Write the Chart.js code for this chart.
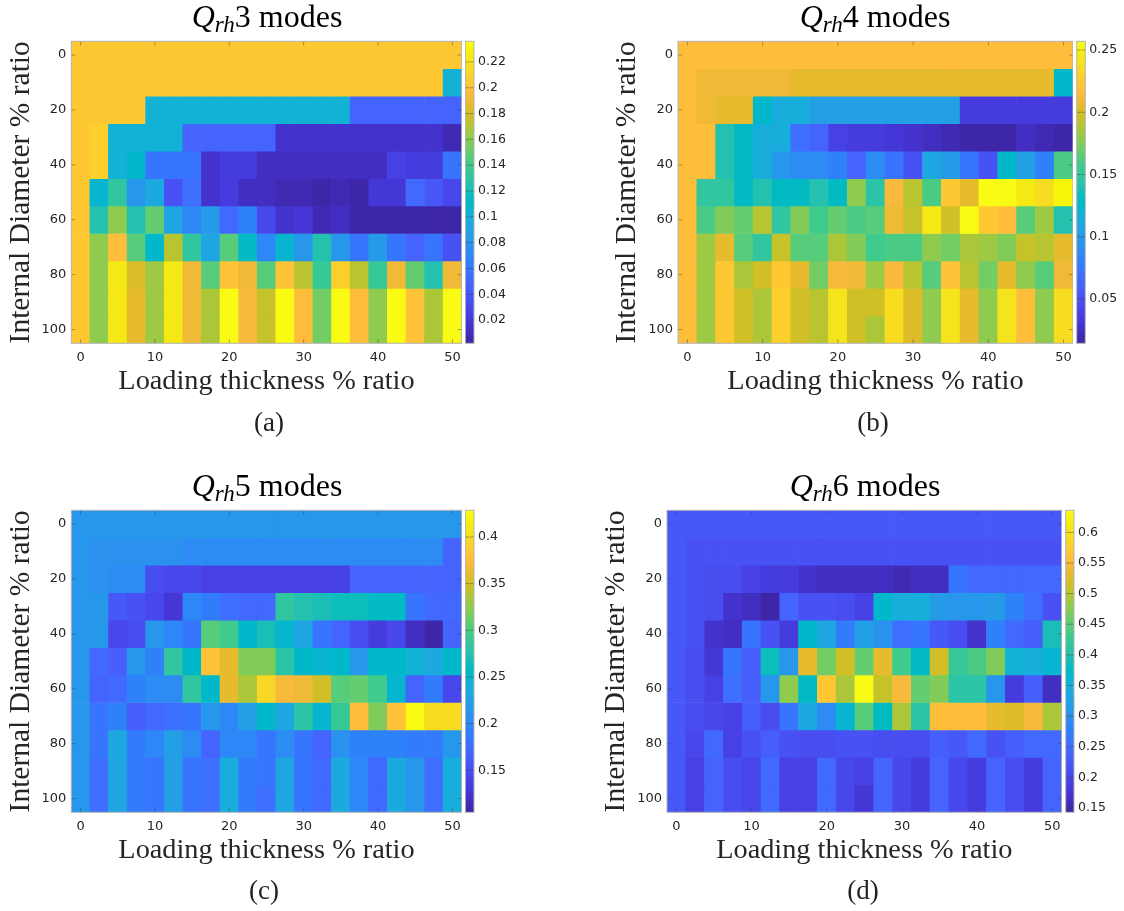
<!DOCTYPE html>
<html>
<head>
<meta charset="utf-8">
<title>Qrh modes</title>
<script src="https://cdn.jsdelivr.net/npm/chart.js@4"></script>
<style>
  html, body { margin: 0; padding: 0; background: #fff; }
  body { position: relative; width: 1124px; height: 911px; overflow: hidden; }
  canvas { position: absolute; display: block; }
</style>
</head>
<body>
<script>
// Data: one row per internal diameter, one value per loading thickness
const loadingThickness = ['0','2.5','5','7.5','10','12.5','15','17.5','20','22.5','25','27.5','30','32.5','35','37.5','40','42.5','45','47.5','50'];
const internalDiameter = [0, 10, 20, 30, 40, 50, 60, 70, 80, 90, 100];
const diameterTicks = [0, 20, 40, 60, 80, 100];

const qrh3 = [
  [.205,.205,.205,.205,.205,.205,.205,.205,.205,.205,.205,.205,.205,.205,.205,.205,.205,.205,.205,.205,.205],
  [.205,.205,.205,.205,.205,.205,.205,.205,.205,.205,.205,.205,.205,.205,.205,.205,.205,.205,.205,.205,.103],
  [.205,.205,.205,.205,.103,.103,.103,.103,.103,.103,.103,.103,.103,.103,.103,.047,.047,.047,.047,.047,.047],
  [.205,.209,.103,.103,.103,.103,.046,.046,.046,.046,.046,.016,.016,.016,.016,.016,.016,.016,.014,.014,.008],
  [.205,.209,.103,.110,.058,.058,.058,.016,.022,.022,.012,.012,.012,.012,.012,.012,.012,.027,.022,.022,.058],
  [.205,.105,.130,.080,.095,.037,.055,.016,.022,.012,.010,.007,.006,.003,.008,.005,.018,.018,.050,.042,.028],
  [.205,.125,.160,.125,.150,.090,.070,.085,.050,.065,.030,.014,.020,.008,.011,.005,.005,.004,.004,.002,.005],
  [.205,.160,.198,.145,.110,.172,.130,.090,.145,.112,.070,.108,.080,.125,.080,.060,.085,.058,.048,.060,.035],
  [.205,.160,.225,.182,.165,.225,.192,.145,.200,.192,.145,.203,.172,.135,.208,.172,.135,.192,.150,.125,.192],
  [.205,.160,.225,.187,.165,.225,.192,.168,.236,.195,.175,.236,.198,.155,.236,.198,.160,.236,.202,.168,.236],
  [.205,.160,.225,.187,.165,.225,.192,.168,.236,.195,.175,.236,.198,.155,.236,.198,.160,.236,.202,.168,.236]
];
const qrh3Limits = [.002, .236];
const qrh3Ticks = [.02, .04, .06, .08, .1, .12, .14, .16, .18, .2, .22];

const qrh4 = [
  [.217,.217,.217,.217,.217,.217,.217,.217,.217,.217,.217,.217,.217,.217,.217,.217,.217,.217,.217,.217,.217],
  [.217,.208,.208,.208,.208,.208,.206,.206,.206,.206,.206,.206,.206,.206,.206,.206,.206,.206,.206,.206,.128],
  [.217,.208,.205,.205,.127,.114,.114,.105,.105,.105,.105,.105,.105,.105,.105,.037,.037,.037,.037,.037,.037],
  [.217,.217,.140,.131,.115,.113,.070,.062,.039,.036,.036,.033,.028,.024,.019,.018,.018,.018,.025,.021,.016],
  [.217,.217,.140,.131,.115,.095,.088,.088,.080,.060,.090,.075,.052,.108,.098,.075,.050,.128,.105,.080,.162],
  [.217,.148,.150,.131,.142,.130,.130,.143,.129,.179,.147,.213,.189,.160,.225,.206,.257,.255,.245,.237,.252],
  [.217,.160,.174,.168,.189,.150,.174,.158,.168,.162,.165,.211,.195,.245,.200,.256,.226,.218,.163,.182,.143],
  [.217,.183,.206,.165,.148,.193,.165,.163,.188,.175,.157,.162,.162,.180,.172,.187,.182,.176,.195,.190,.206],
  [.217,.183,.226,.188,.198,.226,.207,.172,.213,.208,.183,.214,.190,.163,.222,.192,.170,.205,.178,.165,.210],
  [.217,.183,.226,.197,.185,.227,.197,.189,.241,.198,.198,.238,.203,.178,.239,.206,.180,.239,.217,.180,.238],
  [.217,.183,.226,.197,.185,.227,.197,.189,.241,.200,.187,.238,.203,.178,.239,.206,.180,.239,.217,.180,.238]
];
const qrh4Limits = [.0144, .257];
const qrh4Ticks = [.05, .1, .15, .2, .25];

const qrh5 = [
  [.214,.214,.214,.214,.214,.214,.214,.214,.214,.214,.214,.214,.214,.214,.214,.214,.214,.214,.214,.214,.214],
  [.214,.209,.209,.209,.209,.209,.206,.206,.206,.206,.206,.206,.206,.206,.206,.206,.206,.206,.206,.206,.168],
  [.214,.209,.205,.205,.150,.145,.145,.140,.136,.136,.136,.136,.136,.139,.140,.170,.170,.170,.170,.170,.170],
  [.212,.212,.160,.154,.142,.128,.200,.190,.178,.175,.175,.286,.275,.268,.263,.263,.260,.260,.185,.172,.172],
  [.212,.212,.142,.150,.212,.200,.185,.306,.296,.252,.268,.250,.228,.185,.168,.148,.135,.142,.120,.107,.170],
  [.212,.172,.162,.212,.196,.284,.255,.380,.360,.322,.318,.280,.252,.248,.252,.214,.255,.255,.245,.235,.252],
  [.212,.168,.172,.192,.202,.202,.285,.252,.360,.335,.395,.370,.365,.350,.305,.310,.296,.248,.168,.190,.142],
  [.212,.184,.196,.165,.172,.180,.184,.214,.198,.223,.255,.228,.280,.250,.290,.375,.320,.380,.425,.402,.402],
  [.212,.185,.232,.188,.198,.225,.203,.168,.198,.200,.184,.203,.184,.168,.210,.192,.192,.196,.190,.190,.212],
  [.212,.178,.230,.188,.184,.225,.184,.178,.238,.188,.185,.230,.185,.172,.232,.198,.175,.235,.212,.178,.238],
  [.212,.178,.230,.188,.184,.225,.184,.178,.238,.188,.178,.230,.185,.172,.232,.198,.175,.235,.212,.178,.238]
];
const qrh5Limits = [.105, .4286];
const qrh5Ticks = [.15, .2, .25, .3, .35, .4];

const qrh6 = [
  [.224,.224,.224,.224,.224,.224,.224,.224,.224,.224,.224,.224,.224,.224,.224,.224,.224,.224,.224,.224,.224],
  [.224,.216,.216,.216,.216,.216,.213,.213,.213,.213,.213,.213,.213,.213,.213,.213,.213,.213,.213,.213,.213],
  [.224,.216,.208,.208,.193,.185,.185,.173,.162,.162,.162,.160,.158,.160,.160,.262,.245,.245,.245,.245,.245],
  [.224,.220,.205,.172,.160,.150,.243,.220,.213,.205,.190,.370,.345,.345,.320,.310,.310,.320,.275,.255,.220],
  [.224,.220,.172,.160,.265,.215,.188,.370,.335,.272,.325,.300,.255,.265,.225,.205,.172,.275,.250,.235,.395],
  [.224,.205,.180,.265,.235,.385,.305,.534,.465,.520,.454,.530,.430,.375,.515,.425,.440,.470,.355,.345,.360],
  [.224,.205,.190,.255,.230,.305,.475,.380,.572,.495,.630,.510,.550,.455,.470,.405,.410,.305,.188,.235,.162],
  [.224,.210,.200,.190,.230,.210,.260,.340,.290,.360,.445,.380,.490,.410,.555,.555,.555,.530,.525,.545,.490],
  [.224,.200,.250,.195,.220,.235,.213,.205,.208,.213,.213,.210,.210,.210,.235,.225,.250,.220,.230,.245,.245],
  [.224,.190,.240,.205,.200,.245,.192,.190,.250,.200,.190,.240,.200,.185,.240,.200,.185,.240,.205,.185,.240],
  [.224,.190,.240,.205,.200,.245,.192,.190,.250,.200,.178,.240,.200,.185,.240,.200,.185,.240,.205,.185,.240]
];
const qrh6Limits = [.143, .636];
const qrh6Ticks = [.15, .2, .25, .3, .35, .4, .45, .5, .55, .6];

// parula colormap
const parula = [
  [.2422,.1504,.6603],[.2504,.1650,.7076],[.2578,.1818,.7511],[.2647,.1978,.7952],[.2706,.2147,.8364],[.2751,.2342,.8710],
  [.2783,.2559,.8991],[.2803,.2782,.9221],[.2813,.3006,.9414],[.2810,.3228,.9579],[.2795,.3447,.9717],[.2760,.3667,.9829],
  [.2699,.3892,.9906],[.2602,.4123,.9952],[.2440,.4358,.9988],[.2206,.4603,.9973],[.1963,.4847,.9892],[.1834,.5074,.9798],
  [.1786,.5289,.9682],[.1764,.5499,.9520],[.1687,.5703,.9359],[.1540,.5902,.9218],[.1460,.6091,.9079],[.1380,.6276,.8973],
  [.1248,.6459,.8883],[.1113,.6635,.8763],[.0952,.6798,.8598],[.0689,.6948,.8394],[.0297,.7082,.8163],[.0036,.7203,.7917],
  [.0067,.7312,.7660],[.0433,.7411,.7394],[.0964,.7500,.7120],[.1408,.7584,.6842],[.1717,.7670,.6554],[.1938,.7758,.6251],
  [.2161,.7843,.5923],[.2470,.7918,.5567],[.2906,.7973,.5188],[.3406,.8008,.4789],[.3909,.8029,.4354],[.4456,.8024,.3909],
  [.5044,.7993,.3480],[.5616,.7942,.3045],[.6174,.7876,.2612],[.6720,.7793,.2227],[.7242,.7698,.1910],[.7738,.7598,.1646],
  [.8203,.7498,.1535],[.8634,.7406,.1596],[.9035,.7330,.1774],[.9393,.7288,.2100],[.9728,.7298,.2394],[.9956,.7434,.2371],
  [.9970,.7659,.2199],[.9952,.7861,.1990],[.9892,.8134,.1760],[.9786,.8386,.1496],[.9676,.8639,.1260],[.9610,.8890,.1040],
  [.9597,.9135,.0811],[.9628,.9373,.0580],[.9691,.9606,.0362],[.9769,.9839,.0805]
];

function rgb(c) {
  return 'rgb(' + Math.round(c[0] * 255) + ',' + Math.round(c[1] * 255) + ',' + Math.round(c[2] * 255) + ')';
}

function valueColor(v, limits) {
  const f = (v - limits[0]) / (limits[1] - limits[0]);
  const i = Math.max(0, Math.min(parula.length - 1, Math.floor(f * parula.length)));
  return rgb(parula[i]);
}

const SERIF = '"Liberation Serif", serif';
const TICK_FONT = { family: '"DejaVu Sans"', size: 13 };
const TICK_COLOR = '#262626';
const FRAME_COLOR = '#b3b3b3';

// Frame and the small inward ticks, MATLAB style. Also title and (a) caption
const panelDecor = {
  id: 'panelDecor',
  afterDatasetsDraw(chart, args, opts) {
    const { ctx, chartArea: a, scales } = chart;
    ctx.save();
    ctx.strokeStyle = 'rgba(60,60,60,0.45)';
    ctx.lineWidth = 1;
    ctx.beginPath();
    if (opts.xTicks) {
      scales.x.ticks.forEach((t, i) => {
        if (!t.label) return;
        const x = scales.x.getPixelForTick(i);
        ctx.moveTo(x, a.top); ctx.lineTo(x, a.top + 4);
        ctx.moveTo(x, a.bottom); ctx.lineTo(x, a.bottom - 4);
      });
    }
    scales.y.ticks.forEach((t, i) => {
      const y = scales.y.getPixelForTick(i);
      ctx.moveTo(a.left, y); ctx.lineTo(a.left + 4, y);
      ctx.moveTo(a.right, y); ctx.lineTo(a.right - 4, y);
    });
    ctx.stroke();
    ctx.strokeStyle = FRAME_COLOR;
    ctx.strokeRect(a.left, a.top, a.right - a.left, a.bottom - a.top);
    ctx.restore();
  },
  afterDraw(chart, args, opts) {
    const ctx = chart.ctx;
    if (!opts.modes) return;
    ctx.save();
    ctx.fillStyle = '#000';
    ctx.textBaseline = 'alphabetic';
    ctx.textAlign = 'left';
    // title: italic Q, subscript rh, then the plain part
    const big = '32px ' + SERIF, ital = 'italic 32px ' + SERIF, sub = 'italic 23px ' + SERIF;
    ctx.font = ital; const wQ = ctx.measureText('Q').width;
    ctx.font = sub; const wRh = ctx.measureText('rh').width;
    ctx.font = big; const wText = ctx.measureText(opts.modes).width;
    let x = opts.titleX - (wQ + wRh + wText) / 2;
    ctx.font = ital; ctx.fillText('Q', x, opts.titleY); x += wQ;
    ctx.font = sub; ctx.fillText('rh', x, opts.titleY + 5); x += wRh;
    ctx.font = big; ctx.fillText(opts.modes, x, opts.titleY);
    ctx.textAlign = 'center';
    ctx.fillStyle = '#222';
    ctx.font = '27px ' + SERIF;
    ctx.fillText(opts.caption, opts.captionX, opts.captionY);
    ctx.restore();
  }
};
Chart.register(panelDecor);

function addCanvas(left, top, width, height) {
  const c = document.createElement('canvas');
  c.width = width;
  c.height = height;
  c.style.left = left + 'px';
  c.style.top = top + 'px';
  c.style.width = width + 'px';
  c.style.height = height + 'px';
  document.body.appendChild(c);
  return c;
}

function createHeatmap(rows, limits, ticks, box) {
  const W = Math.ceil(box.right) - box.canvasLeft, H = box.canvasHeight;
  const canvas = addCanvas(box.canvasLeft, box.canvasTop, W, H);
  const datasets = internalDiameter.map((d, r) => ({
    label: String(d),
    data: rows[r].map(() => [d - 5, d + 5]),
    backgroundColor: rows[r].map(v => valueColor(v, limits)),
    borderWidth: 0,
    grouped: false,
    barPercentage: 1,
    categoryPercentage: 1
  }));
  new Chart(canvas.getContext('2d'), {
    type: 'bar',
    data: { labels: loadingThickness, datasets },
    options: {
      responsive: false,
      animation: false,
      layout: {
        padding: { top: box.top - box.canvasTop, right: W - (box.right - box.canvasLeft), left: 0, bottom: 0 }
      },
      plugins: {
        legend: { display: false },
        tooltip: { enabled: false },
        panelDecor: {
          xTicks: true,
          modes: box.modes,
          caption: box.caption,
          titleX: box.titleX - box.canvasLeft,
          titleY: box.titleY - box.canvasTop,
          captionX: box.captionX - box.canvasLeft,
          captionY: box.captionY - box.canvasTop
        }
      },
      scales: {
        x: {
          grid: { display: false, drawTicks: false },
          border: { display: false },
          ticks: {
            font: TICK_FONT,
            color: TICK_COLOR,
            padding: 7,
            autoSkip: false,
            maxRotation: 0,
            callback(value) {
              const label = this.getLabelForValue(value);
              return Number(label) % 10 === 0 ? label : '';
            }
          },
          title: {
            display: true,
            text: 'Loading thickness % ratio',
            color: TICK_COLOR,
            font: { family: SERIF, size: 28.3 },
            padding: { top: 0, bottom: H + box.canvasTop - box.xTitleY - 17 }
          },
          afterFit(scale) {
            scale.height = H - (box.bottom - box.canvasTop);
            scale.paddingLeft = 0;
            scale.paddingRight = 0;
          }
        },
        y: {
          type: 'linear',
          reverse: true,
          min: -5,
          max: 105,
          grid: { display: false, drawTicks: false },
          border: { display: false },
          afterBuildTicks(scale) { scale.ticks = diameterTicks.map(v => ({ value: v })); },
          ticks: { font: TICK_FONT, color: TICK_COLOR, padding: 5 },
          title: {
            display: true,
            text: 'Internal Diameter % ratio',
            color: TICK_COLOR,
            font: { family: SERIF, size: 29.5 },
            padding: { top: box.yTitleX - box.canvasLeft - 17, bottom: 0 }
          },
          afterFit(scale) {
            scale.width = box.left - box.canvasLeft;
            scale.paddingTop = 0;
            scale.paddingBottom = 0;
          }
        }
      }
    }
  });

  // colorbar is its own little chart, one floating bar filled with the colormap
  const barWidth = box.barRight - box.barLeft;
  const cbLeft = Math.floor(box.barLeft);
  const cbWidth = 52;
  const cb = addCanvas(cbLeft, box.canvasTop, cbWidth, H);
  new Chart(cb.getContext('2d'), {
    type: 'bar',
    data: {
      labels: [''],
      datasets: [{
        data: [limits],
        borderWidth: 0,
        barPercentage: 1,
        categoryPercentage: 1,
        backgroundColor(ctx) {
          const area = ctx.chart.chartArea;
          if (!area) return rgb(parula[0]);
          const g = ctx.chart.ctx.createLinearGradient(0, area.bottom, 0, area.top);
          parula.forEach((c, i) => g.addColorStop((i + 0.5) / parula.length, rgb(c)));
          return g;
        }
      }]
    },
    options: {
      responsive: false,
      animation: false,
      layout: {
        padding: {
          left: box.barLeft - cbLeft,
          top: box.top - box.canvasTop,
          bottom: H - (box.bottom - box.canvasTop),
          right: 0
        }
      },
      plugins: {
        legend: { display: false },
        tooltip: { enabled: false },
        panelDecor: { xTicks: false }
      },
      scales: {
        x: { display: false },
        y: {
          position: 'right',
          min: limits[0],
          max: limits[1],
          grid: { display: false, drawTicks: false },
          border: { display: false },
          afterBuildTicks(scale) { scale.ticks = ticks.map(v => ({ value: v })); },
          ticks: {
            font: { family: '"DejaVu Sans"', size: 12.5 },
            color: TICK_COLOR,
            padding: 4,
            callback: v => String(Number(v.toFixed(3)))
          },
          afterFit(scale) {
            scale.width = cbWidth - (box.barLeft - cbLeft) - barWidth;
            scale.paddingTop = 0;
            scale.paddingBottom = 0;
          }
        }
      }
    }
  });
}

createHeatmap(qrh3, qrh3Limits, qrh3Ticks, {
  canvasLeft: 0, canvasTop: 0, canvasHeight: 440,
  left: 71.3, right: 461.7, top: 41.3, bottom: 343.3, barLeft: 465.3, barRight: 474,
  modes: '3 modes', caption: '(a)', titleX: 267, titleY: 27, captionX: 269, captionY: 431,
  xTitleY: 382, yTitleX: 21
});
createHeatmap(qrh4, qrh4Limits, qrh4Ticks, {
  canvasLeft: 600, canvasTop: 0, canvasHeight: 440,
  left: 678, right: 1073, top: 41.3, bottom: 343.3, barLeft: 1076.7, barRight: 1085.3,
  modes: '4 modes', caption: '(b)', titleX: 875, titleY: 27, captionX: 873, captionY: 431,
  xTitleY: 382, yTitleX: 627
});
createHeatmap(qrh5, qrh5Limits, qrh5Ticks, {
  canvasLeft: 0, canvasTop: 465, canvasHeight: 446,
  left: 71.3, right: 461.7, top: 510.3, bottom: 812.3, barLeft: 465.3, barRight: 474,
  modes: '5 modes', caption: '(c)', titleX: 267, titleY: 496, captionX: 264, captionY: 899,
  xTitleY: 851, yTitleX: 21
});
createHeatmap(qrh6, qrh6Limits, qrh6Ticks, {
  canvasLeft: 600, canvasTop: 465, canvasHeight: 446,
  left: 667, right: 1061.7, top: 510.3, bottom: 812.3, barLeft: 1065.7, barRight: 1074,
  modes: '6 modes', caption: '(d)', titleX: 865, titleY: 496, captionX: 863, captionY: 899,
  xTitleY: 851, yTitleX: 616
});
</script>
</body>
</html>
